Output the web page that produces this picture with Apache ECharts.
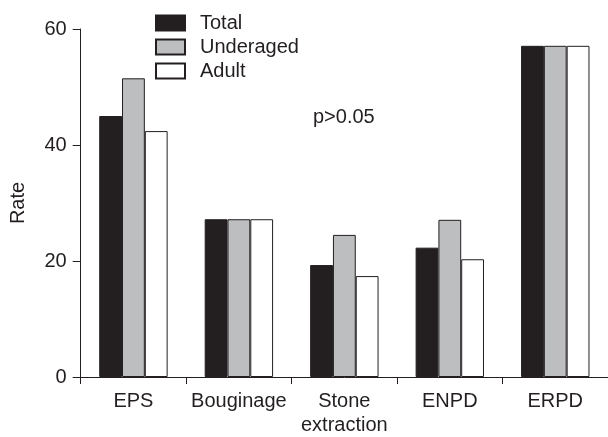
<!DOCTYPE html>
<html>
<head>
<meta charset="utf-8">
<script src="https://cdn.jsdelivr.net/npm/echarts@6/dist/echarts.min.js"></script>
<style>
  html, body { margin: 0; padding: 0; background: #fff; }
  #main { width: 608px; height: 437px; }
</style>
</head>
<body>
<div id="main"></div>
<script>
// data
var categories = ["EPS", "Bouginage", "Stone\nextraction", "ENPD", "ERPD"];
var total = [45.0, 27.2, 19.3, 22.3, 57.1];
var underaged = [51.5, 27.2, 24.5, 27.1, 57.1];
var adult = [42.4, 27.2, 17.4, 20.3, 57.1];
var yTicks = [0, 20, 40, 60];

var ink = "#231f20";
var font = "'Liberation Sans', Arial, sans-serif";

var myChart = echarts.init(document.getElementById("main"));

function barSeries(name, data, color) {
  return {
    name: name,
    type: "bar",
    data: data,
    barWidth: 22.8,
    barGap: "0%",
    itemStyle: { color: color, borderColor: ink, borderWidth: 1 },
  };
}

var option = {
  animation: false,
  textStyle: { fontFamily: font },
  grid: { left: 80.7, right: -2, top: 29, bottom: 57 },
  legend: {
    orient: "vertical",
    left: 150,
    top: 8,
    itemWidth: 29,
    itemHeight: 15,
    itemGap: 4,
    icon: "rect",
    textStyle: { fontSize: 20, color: ink, fontFamily: font, padding: [0, 0, 0, 10] },
    data: ["Total", "Underaged", "Adult"],
  },
  xAxis: {
    type: "category",
    data: categories,
    axisLine: { lineStyle: { color: ink, width: 1 } },
    axisTick: { show: true, length: 7, alignWithLabel: false, lineStyle: { color: ink } },
    axisLabel: { interval: 0, fontSize: 20, color: ink, margin: 12, lineHeight: 24, fontFamily: font },
  },
  yAxis: {
    type: "value",
    min: yTicks[0],
    max: yTicks[yTicks.length - 1],
    interval: 20,
    name: "Rate",
    nameLocation: "middle",
    nameGap: 52,
    nameTextStyle: { fontSize: 20, color: ink, fontFamily: font },
    splitLine: { show: false },
    axisLine: { show: true, lineStyle: { color: ink, width: 1 } },
    axisTick: { show: true, length: 8, lineStyle: { color: ink } },
    axisLabel: { fontSize: 20, color: ink, margin: 14, fontFamily: font },
  },
  graphic: [
    {
      type: "text",
      left: 313,
      top: 107,
      style: { text: "p>0.05", fontSize: 20, fill: ink, fontFamily: font },
    },
  ],
  series: [
    barSeries("Total", total, ink),
    barSeries("Underaged", underaged, "#bcbec0"),
    barSeries("Adult", adult, "#ffffff"),
  ],
};

option && myChart.setOption(option);
</script>
</body>
</html>
